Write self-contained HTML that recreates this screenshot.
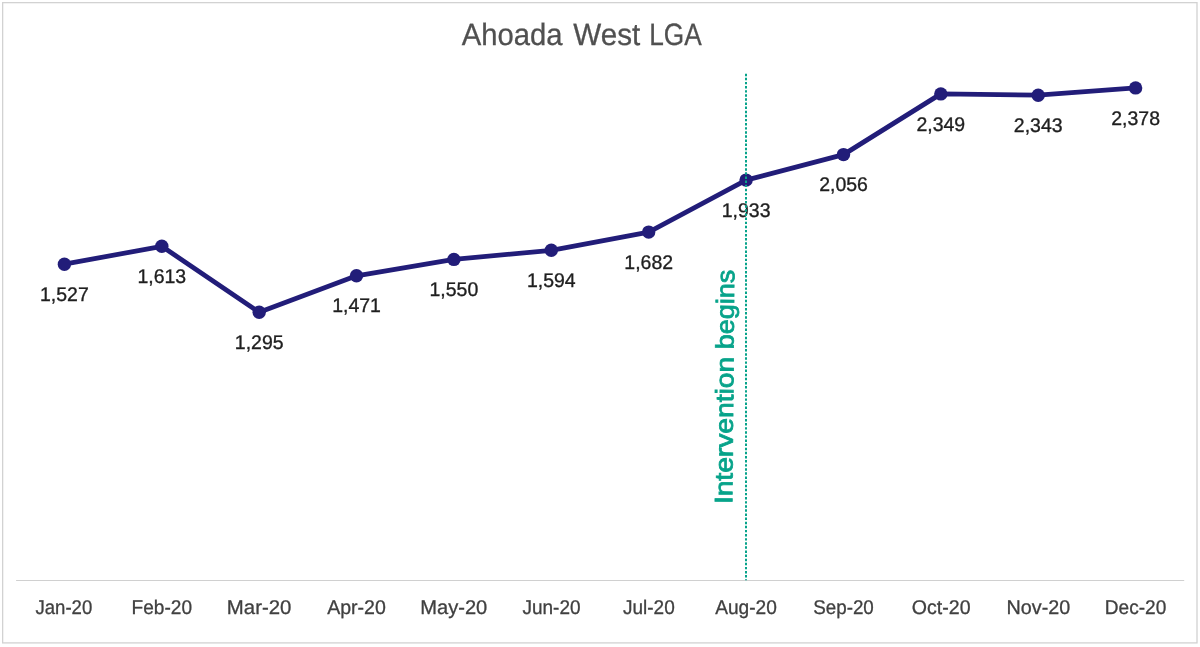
<!DOCTYPE html>
<html lang="en"><head><meta charset="utf-8"><title>Ahoada West LGA</title>
<style>
html,body{margin:0;padding:0;background:#fff;}
body{width:1200px;height:647px;overflow:hidden;}
svg{display:block;}
text{font-family:"Liberation Sans",Arial,sans-serif;text-rendering:geometricPrecision;}
</style></head><body>
<svg width="1200" height="647" viewBox="0 0 1200 647">
<rect x="0" y="0" width="1200" height="647" fill="#ffffff"/>
<rect x="2.65" y="2.65" width="1194.35" height="640.25" fill="none" stroke="#d2d2d2" stroke-width="1.3"/>
<text y="45.2" font-size="30.8" fill="#505050" stroke="#505050" stroke-width="0.3"><tspan x="461.85" textLength="100.79" lengthAdjust="spacingAndGlyphs">Ahoada</tspan> <tspan x="573.35" textLength="66.94" lengthAdjust="spacingAndGlyphs">West</tspan> <tspan x="649.25" textLength="52.42" lengthAdjust="spacingAndGlyphs">LGA</tspan></text>
<line x1="16.1" y1="580.5" x2="1184.2" y2="580.5" stroke="#d0d0d0" stroke-width="1.2"/>
<polyline fill="none" stroke="#221d79" stroke-width="4.8" stroke-linejoin="round" stroke-linecap="round" points="64.4,264.2 161.8,246.3 259.2,312.2 356.5,275.8 453.9,259.4 551.3,250.3 648.7,232.1 746.1,180.1 843.5,154.6 940.8,93.9 1038.2,95.2 1135.6,87.9"/>
<g fill="#221d79">
<circle cx="64.4" cy="264.2" r="6.7"/>
<circle cx="161.8" cy="246.3" r="6.7"/>
<circle cx="259.2" cy="312.2" r="6.7"/>
<circle cx="356.5" cy="275.8" r="6.7"/>
<circle cx="453.9" cy="259.4" r="6.7"/>
<circle cx="551.3" cy="250.3" r="6.7"/>
<circle cx="648.7" cy="232.1" r="6.7"/>
<circle cx="746.1" cy="180.1" r="6.7"/>
<circle cx="843.5" cy="154.6" r="6.7"/>
<circle cx="940.8" cy="93.9" r="6.7"/>
<circle cx="1038.2" cy="95.2" r="6.7"/>
<circle cx="1135.6" cy="87.9" r="6.7"/>
</g>
<g font-size="19.8" fill="#1f1f1f" stroke="#1f1f1f" stroke-width="0.35" text-anchor="middle">
<text transform="translate(64.4 300.8) scale(0.9842 1)">1,527</text>
<text transform="translate(161.8 282.9) scale(0.9842 1)">1,613</text>
<text transform="translate(259.2 348.8) scale(0.9842 1)">1,295</text>
<text transform="translate(356.5 312.4) scale(0.9842 1)">1,471</text>
<text transform="translate(453.9 296.0) scale(0.9842 1)">1,550</text>
<text transform="translate(551.3 286.9) scale(0.9842 1)">1,594</text>
<text transform="translate(648.7 268.7) scale(0.9842 1)">1,682</text>
<text transform="translate(746.1 216.7) scale(0.9842 1)">1,933</text>
<text transform="translate(843.5 191.2) scale(0.9842 1)">2,056</text>
<text transform="translate(940.8 130.5) scale(0.9842 1)">2,349</text>
<text transform="translate(1038.2 131.8) scale(0.9842 1)">2,343</text>
<text transform="translate(1135.6 124.5) scale(0.9842 1)">2,378</text>
</g>
<g font-size="19.85" fill="#404040" stroke="#404040" stroke-width="0.3">
<text transform="translate(35.46 614.0) scale(0.9360 1)">Jan-20</text>
<text transform="translate(131.62 614.0) scale(0.9606 1)">Feb-20</text>
<text transform="translate(226.82 614.0) scale(1.0269 1)">Mar-20</text>
<text transform="translate(327.15 614.0) scale(0.9854 1)">Apr-20</text>
<text transform="translate(420.24 614.0) scale(1.0128 1)">May-20</text>
<text transform="translate(522.46 614.0) scale(0.9569 1)">Jun-20</text>
<text transform="translate(622.96 614.0) scale(0.9577 1)">Jul-20</text>
<text transform="translate(715.15 614.0) scale(0.9638 1)">Aug-20</text>
<text transform="translate(813.20 614.0) scale(0.9472 1)">Sep-20</text>
<text transform="translate(911.87 614.0) scale(0.9852 1)">Oct-20</text>
<text transform="translate(1006.57 614.0) scale(0.9954 1)">Nov-20</text>
<text transform="translate(1104.82 614.0) scale(0.9614 1)">Dec-20</text>
</g>
<text transform="translate(732.3 502.0) rotate(-89.52)" font-size="25.2" fill="#07a38a" stroke="#07a38a" stroke-width="0.8"><tspan x="-2.14" textLength="147.22" lengthAdjust="spacingAndGlyphs">Intervention</tspan> <tspan x="152.78" textLength="79.43" lengthAdjust="spacingAndGlyphs">begins</tspan></text>
<line x1="746.0" y1="73.7" x2="746.0" y2="580.2" stroke="#07a38a" stroke-width="2.0" stroke-dasharray="2.45 1.66"/>
</svg>
</body></html>
